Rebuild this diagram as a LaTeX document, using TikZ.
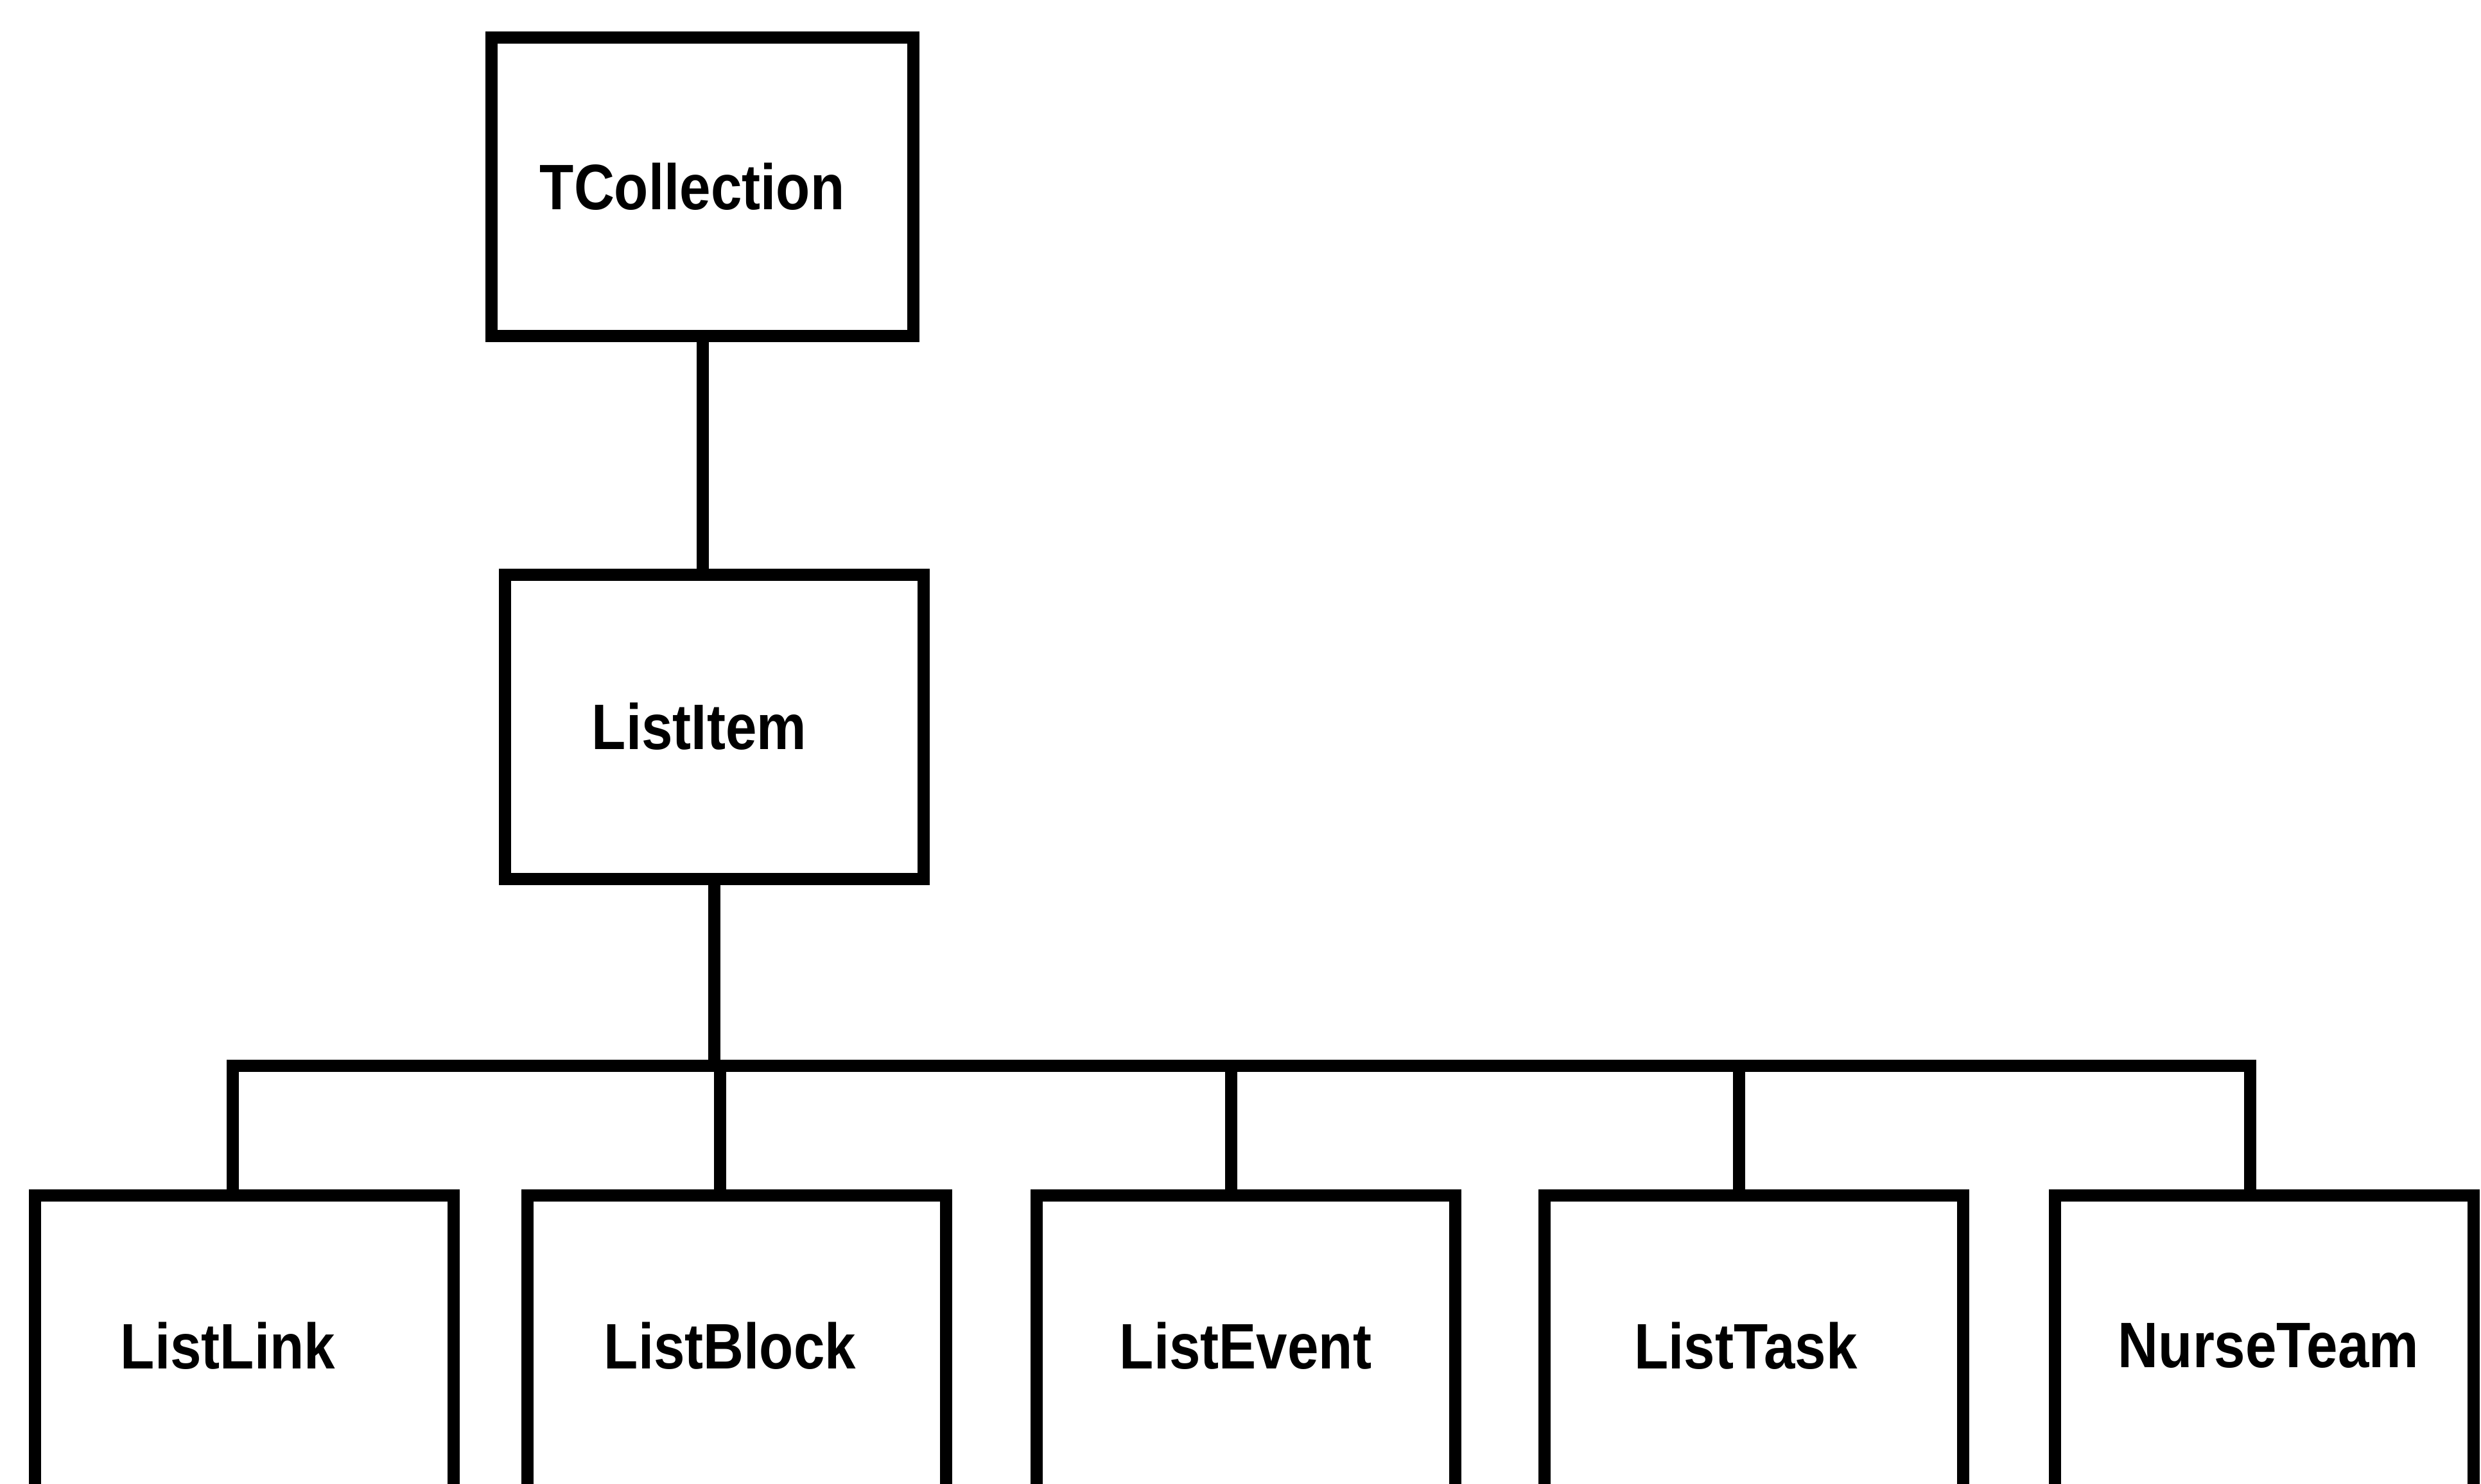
\documentclass[tikz,border=0pt]{standalone}
\usepackage{fontspec}
\setmainfont{Liberation Sans}
\usetikzlibrary{calc}

\tikzset{
  classbox/.style={draw=black, line width=1.9mm, fill=none, inner sep=0pt,
    minimum width=6.52cm, minimum height=4.7cm,
    font=\fontsize{28.5}{32}\selectfont\bfseries},
  link/.style={draw=black, line width=1.9mm, line join=miter, line cap=rect}
}
% class name, narrowed, optionally nudged sideways by #1
\newcommand{\cname}[2][0pt]{\hspace*{\dimexpr 2\dimexpr#1\relax\relax}\scalebox{0.87}[1]{#2}}

\begin{document}
\begin{tikzpicture}
  % page frame
  \fill[white] (0,0) rectangle (38.64,-23.12);
  \useasboundingbox (0,0) rectangle (38.64,-23.12);
  \clip (0,0) rectangle (38.64,-23.12);

  % class hierarchy
  \node[classbox, minimum width=6.57cm, minimum height=4.65cm] (tc) at (10.94,-2.91) {\cname[-1.6mm]{TCollection}};
  \node[classbox, minimum height=4.74cm] (li) at (11.12,-11.32) {\cname[-2.3mm]{ListItem}};

  \node[classbox] (ll) at (3.80,-20.97)  {\cname[-2.5mm]{ListLink}};
  \node[classbox] (lb) at (11.47,-20.97) {\cname[-1mm]{ListBlock}};
  \node[classbox] (le) at (19.40,-20.97) {\cname{ListEvent}};
  \node[classbox] (lt) at (27.31,-20.97) {\cname[-1.2mm]{ListTask}};
  \node[classbox] (nt) at (35.26,-20.97) {\cname[0.7mm]{NurseTeam}};

  % attachment points of the drops and the horizontal bus
  \coordinate (bus) at (0,-16.60);
  \coordinate (llt) at ([xshift=-1.8mm]ll.north);
  \coordinate (lbt) at ([xshift=-2.6mm]lb.north);
  \coordinate (let) at ([xshift=-2.3mm]le.north);
  \coordinate (ltt) at ([xshift=-2.3mm]lt.north);
  \coordinate (ntt) at ([xshift=-2.2mm]nt.north);

  % connectors
  \draw[link] (tc.south) -- (tc.south |- li.north);
  \draw[link] (li.south) -- (li.south |- bus);
  \draw[link] (llt) -- (llt |- bus) -- (ntt |- bus) -- (ntt);
  \draw[link] (lbt |- bus) -- (lbt);
  \draw[link] (let |- bus) -- (let);
  \draw[link] (ltt |- bus) -- (ltt);
\end{tikzpicture}
\end{document}
